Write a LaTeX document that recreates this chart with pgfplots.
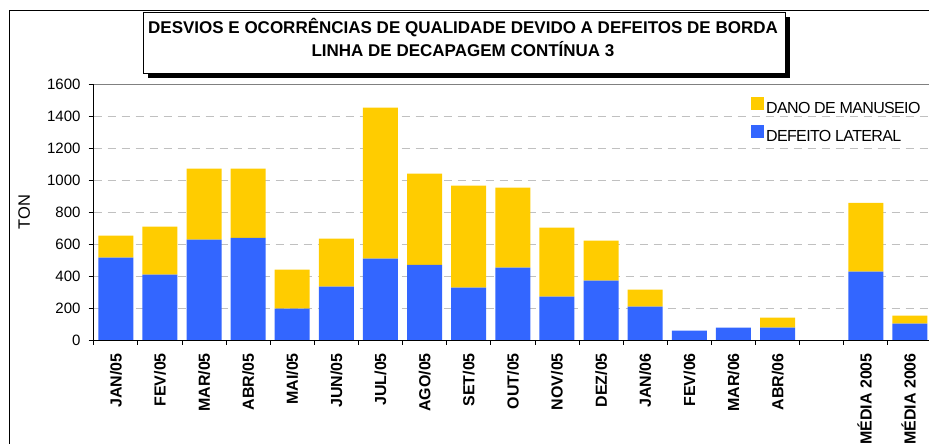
\documentclass[border=0pt]{standalone}
\usepackage{fontspec}
\setmainfont{Liberation Sans}
\usepackage{pgfplots}
\usepackage{pgfplotstable}
\pgfplotsset{compat=1.18}
\definecolor{barblue}{HTML}{3366FF}
\definecolor{baryellow}{HTML}{FFCC00}
\definecolor{gridgray}{HTML}{C0C0C0}

\pgfplotstableread{
x lat man
0 515 138
1 409 300
2 628 444
3 640 432
4 196 244
5 334 300
6 509 945
7 471 570
8 328 638
9 453 501
10 272 432
11 372 250
12 209 106
13 58 0
14 77 0
15 77 63
17 428 431
18 102 50
}\data

\begin{document}
\begin{tikzpicture}[x=1pt,y=1pt]
\useasboundingbox (0,0) rectangle (929,444);
\clip (0,0) rectangle (929,444);
\draw[line width=1pt] (9,433) rectangle (960,-20);
\fill[black] (148,366) rectangle (790,427);
\draw[fill=white, line width=0.8pt] (143,371) rectangle (785,432);
\node[anchor=base, inner sep=0pt, font=\fontsize{17}{20}\selectfont\bfseries] at (463,410) {DESVIOS E OCORRÊNCIAS DE QUALIDADE DEVIDO A DEFEITOS DE BORDA};
\node[anchor=base, inner sep=0pt, font=\fontsize{17}{20}\selectfont\bfseries] at (463,387) {LINHA DE DECAPAGEM CONTÍNUA 3};
\begin{axis}[
  at={(93.7pt,104pt)}, anchor=south west,
  scale only axis, width=838.3pt, height=255.6pt,
  ybar stacked, bar width=35pt,
  xmin=-0.5, xmax=18.5, ymin=0, ymax=1600,
  axis x line*=bottom, axis y line*=left,
  axis line style={-, black, line width=0.8pt},
  ytick={0,200,...,1600},
  ymajorgrids,
  major grid style={gridgray, dash pattern=on 8pt off 6pt, line width=0.8pt},
  xtick={0,...,18},
  xticklabels={JAN/05,FEV/05,MAR/05,ABR/05,MAI/05,JUN/05,JUL/05,AGO/05,SET/05,OUT/05,NOV/05,DEZ/05,JAN/06,FEV/06,MAR/06,ABR/06,{},MÉDIA 2005,MÉDIA 2006},
  minor xtick={-0.5,0.5,...,18.5},
  every major x tick/.style={draw=none},
  tick align=outside,
  major tick length=5pt, minor tick length=5pt,
  tick style={black, line width=0.8pt},
  xticklabel style={rotate=90, anchor=east, inner sep=0pt, font=\fontsize{16}{16}\selectfont\bfseries, text height=11.5pt, text depth=0pt},
  xticklabel shift=8pt,
  yticklabel style={font=\fontsize{15}{15}\selectfont, inner sep=0pt},
  yticklabel shift=8pt,
  /pgf/number format/assume math mode=true,
  /pgf/number format/1000 sep={},
  ylabel={TON},
  ylabel style={at={(axis description cs:-0.083,0.5)}, anchor=center, font=\fontsize{16.5}{18}\selectfont},
  legend style={draw=none, fill=none, at={(0.784,0.951)}, anchor=north west,
    font=\fontsize{16}{16}\selectfont\addfontfeature{LetterSpace=-4},
    row sep=8pt, inner sep=0pt,
    /tikz/every even column/.append style={column sep=4pt}},
  legend cell align=left,
  reverse legend,
  legend image code/.code={\path[#1, draw=none] (0pt,-1.5pt) rectangle (13pt,11.5pt);},
]
\addplot[fill=barblue, draw=none] table[x=x, y=lat] {\data};
\addplot[fill=baryellow, draw=none] table[x=x, y=man] {\data};
\legend{DEFEITO LATERAL, DANO DE MANUSEIO}
\draw[gray, line width=1.5pt] (axis cs:-0.5,1600) -- (axis cs:18.5,1600);
\end{axis}
\end{tikzpicture}
\end{document}
